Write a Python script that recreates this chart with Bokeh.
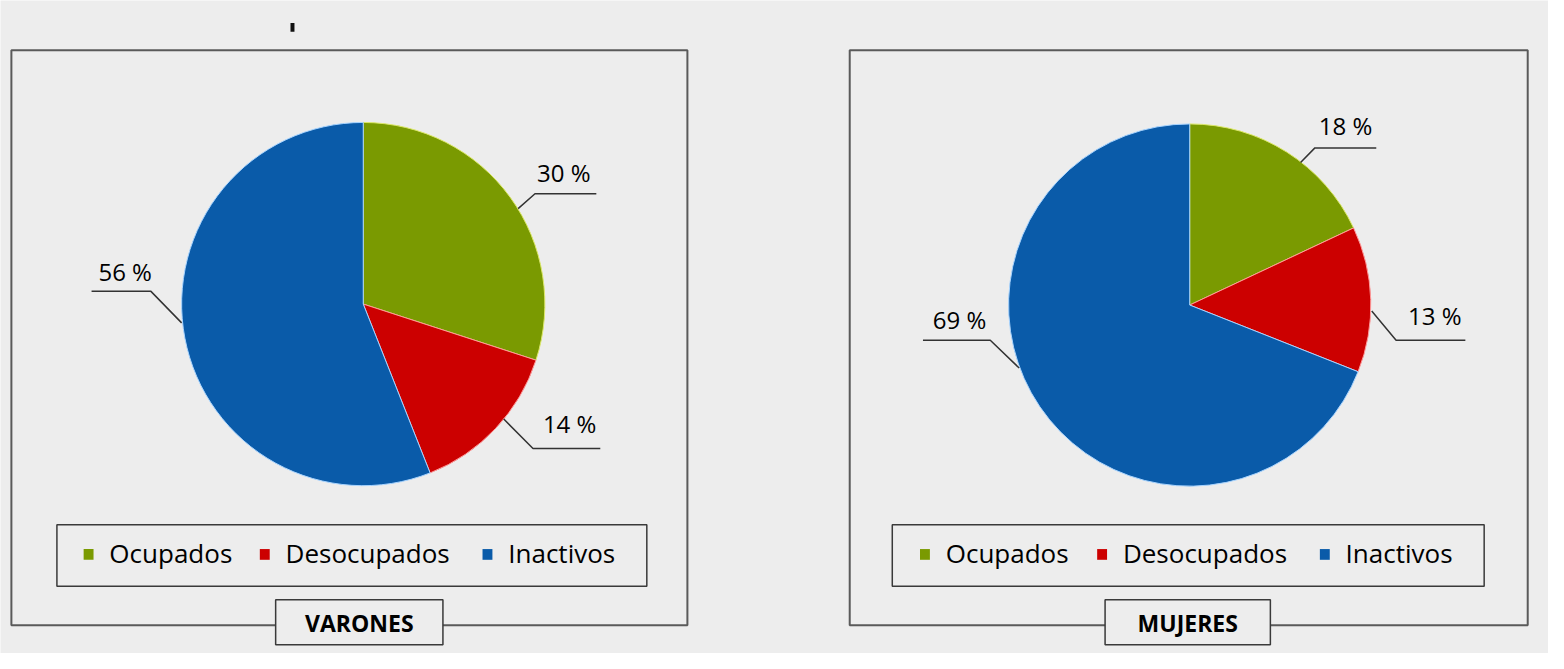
import math
from bokeh.plotting import figure
from bokeh.models import Range1d
from bokeh.embed import file_html
from bokeh.resources import INLINE
from bokeh.core.properties import value

# ---------------- data ----------------
categories = ["Ocupados", "Desocupados", "Inactivos"]
varones = [30, 14, 56]
mujeres = [18, 13, 69]
panel_titles = ["VARONES", "MUJERES"]

# ---------------- style ----------------
colors = ["#7a9a01", "#cc0000", "#0a5ba9"]
edge_colors = ["#dce86a", "#ff9a9a", "#a8d4ff"]
BG = "#ededed"
INK = "#000000"
FONT = value("Open Sans")

REF_W, REF_H = 1564, 669
W, H = 1548, 653
p = figure(width=W, height=H, x_range=Range1d(0, REF_W), y_range=Range1d(0, REF_H),
           output_backend="svg", toolbar_location=None, min_border=0,
           x_axis_location=None, y_axis_location=None,
           background_fill_color=BG, border_fill_color=BG, outline_line_color=None)
p.grid.visible = False


def Y(py):
    # reference y (downwards) -> data y (upwards)
    return REF_H - py


# layout (reference pixel coordinates)
layouts = [
    dict(box=(11, 51, 694, 640), center=(366.5, 311.0), r=183.5,
         legend_box=(57, 537, 653, 600), title_box=(278, 614, 447, 660),
         legend_text_x=[110, 288, 513],
         labels=[  # angle(deg, clockwise from top), x_a, x_b, line_y, elbow x, text_x, text_mid_y, align
             (58.0, 540, 602, 198, 540, 542, 176, "left"),
             (129.7, 538, 606, 459, 538, 548, 433, "left"),
             (264.0, 92, 152, 298, 152, 153, 278, "right"),
         ]),
    dict(box=(858, 51, 1543, 640), center=(1201.5, 312.0), r=183.0,
         legend_box=(901, 537, 1499, 600), title_box=(1116, 614, 1283, 660),
         legend_text_x=[955, 1134, 1359],
         labels=[
             (37.5, 1328, 1390, 151, 1328, 1332, 128, "left"),
             (91.9, 1410, 1480, 348, 1410, 1422, 323, "left"),
             (249.5, 932, 1000, 348, 1000, 996, 327, "right"),
         ]),
]

# stray mark at the top of the original
p.quad(left=[293], right=[297], top=[Y(23)], bottom=[Y(32)], fill_color="#111111", line_color=None)

for vals, title, L in zip([varones, mujeres], panel_titles, layouts):
    x0, y0, x1, y1 = L["box"]
    p.quad(left=[x0], right=[x1], top=[Y(y0)], bottom=[Y(y1)], fill_color=None,
           line_color="#5a5a5a", line_width=2)

    cx, cy = L["center"]
    r = L["r"]
    total = float(sum(vals))
    cum = 0.0
    starts, ends = [], []
    for v in vals:
        a0 = cum / total
        cum += v
        a1 = cum / total
        starts.append(math.pi / 2 - 2 * math.pi * a0)
        ends.append(math.pi / 2 - 2 * math.pi * a1)
    p.wedge(x=[cx] * 3, y=[Y(cy)] * 3, radius=r, start_angle=starts, end_angle=ends,
            direction="clock", fill_color=colors, line_color=edge_colors, line_width=1)

    # percentage labels with leader lines
    for v, (ang, xa, xb, ly, elbow, tx, ty, align) in zip(vals, L["labels"]):
        t = math.radians(ang)
        ex = cx + (r + 1) * math.sin(t)
        ey = cy - (r + 1) * math.cos(t)
        other = xb if elbow == xa else xa
        p.line(x=[ex, elbow, other], y=[Y(ey), Y(ly), Y(ly)], line_color="#333333", line_width=1.5)
        p.text(x=[tx], y=[Y(ty)], text=[f"{v} %"], text_font=FONT, text_font_size="24px",
               text_color=INK, text_align=align, text_baseline="middle")

    # legend
    lx0, ly0, lx1, ly1 = L["legend_box"]
    p.quad(left=[lx0], right=[lx1], top=[Y(ly0)], bottom=[Y(ly1)], fill_color=BG,
           line_color="#3a3a3a", line_width=1.5)
    for cat, col, tx in zip(categories, colors, L["legend_text_x"]):
        mx = tx - 21
        p.quad(left=[mx - 5], right=[mx + 5], top=[Y(562)], bottom=[Y(573)], fill_color=col,
               line_color=None)
        p.text(x=[tx], y=[Y(566)], text=[cat], text_font=FONT, text_font_size="26px",
               text_color=INK, text_align="left", text_baseline="middle")

    # title box
    tx0, ty0, tx1, ty1 = L["title_box"]
    p.quad(left=[tx0], right=[tx1], top=[Y(ty0)], bottom=[Y(ty1)], fill_color=BG,
           line_color="#3a3a3a", line_width=1.5)
    p.text(x=[(tx0 + tx1) / 2], y=[Y(638)], text=[title], text_font=FONT, text_font_size="23px",
           text_font_style="bold", text_color=INK, text_align="center", text_baseline="middle")

open("out.html", "w").write(file_html(p, INLINE))
